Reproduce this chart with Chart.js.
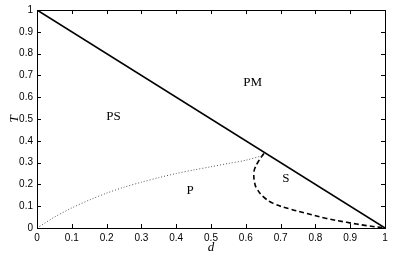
<!DOCTYPE html>
<html>
<head>
<meta charset="utf-8">
<script src="https://cdn.jsdelivr.net/npm/chart.js@4.4.1/dist/chart.umd.min.js"></script>
<style>
  html, body { margin: 0; padding: 0; background: #fff; }
  canvas { display: block; }
</style>
</head>
<body>
<canvas id="phaseChart" width="399" height="257"></canvas>
<script>
// boundary between PM and the low-T phases
const lineD = [0, 1];
const lineT = [1, 0];

// dotted boundary PS / P
const dottedD = [0, 0.02, 0.05, 0.1, 0.15, 0.2, 0.25, 0.3, 0.35, 0.4, 0.45, 0.5, 0.55, 0.6, 0.65];
const dottedT = [0, 0.02, 0.05, 0.092, 0.128, 0.16, 0.187, 0.21, 0.231, 0.25, 0.266, 0.281, 0.296, 0.311, 0.333];

// dashed boundary of the S region
const dashedD = [0.652, 0.638, 0.626, 0.623, 0.625, 0.631, 0.65, 0.679, 0.727, 0.775, 0.832, 0.89, 0.947, 1];
const dashedT = [0.342, 0.31, 0.274, 0.25, 0.21, 0.182, 0.144, 0.113, 0.087, 0.067, 0.044, 0.026, 0.011, 0];

const regionNames = ['PM', 'PS', 'P', 'S'];
const regionD = [0.62, 0.22, 0.44, 0.715];
const regionT = [0.665, 0.51, 0.17, 0.225];

const xTicks = [0, 0.1, 0.2, 0.3, 0.4, 0.5, 0.6, 0.7, 0.8, 0.9, 1];
const yTicks = [0, 0.1, 0.2, 0.3, 0.4, 0.5, 0.6, 0.7, 0.8, 0.9, 1];

const toPoints = (xs, ys) => xs.map((x, i) => ({ x: x, y: ys[i] }));

// frame box, inward ticks (matlab style) and region names
const framePlugin = {
  id: 'frame',
  afterDatasetsDraw(chart) {
    const { ctx, chartArea: a, scales } = chart;
    ctx.save();
    ctx.strokeStyle = '#000';
    ctx.lineWidth = 1;
    ctx.strokeRect(a.left + 0.5, a.top + 0.5, a.right - a.left, a.bottom - a.top);
    ctx.beginPath();
    xTicks.forEach(v => {
      const px = Math.round(scales.x.getPixelForValue(v)) + 0.5;
      ctx.moveTo(px, a.bottom); ctx.lineTo(px, a.bottom - 4);
      ctx.moveTo(px, a.top); ctx.lineTo(px, a.top + 4);
    });
    yTicks.forEach(v => {
      const py = Math.round(scales.y.getPixelForValue(v)) + 0.5;
      ctx.moveTo(a.left, py); ctx.lineTo(a.left + 4, py);
      ctx.moveTo(a.right, py); ctx.lineTo(a.right - 4, py);
    });
    ctx.stroke();

    ctx.fillStyle = '#000';
    ctx.font = '13px "Liberation Serif", "DejaVu Serif", serif';
    ctx.textAlign = 'center';
    ctx.textBaseline = 'middle';
    regionNames.forEach((name, i) => {
      ctx.fillText(name, scales.x.getPixelForValue(regionD[i]), scales.y.getPixelForValue(regionT[i]));
    });
    ctx.restore();
  }
};

const tickFont = { family: '"Liberation Sans", Arial, sans-serif', size: 10 };

new Chart(document.getElementById('phaseChart').getContext('2d'), {
  type: 'scatter',
  data: {
    datasets: [
      {
        data: toPoints(lineD, lineT),
        showLine: true,
        borderColor: '#000',
        borderWidth: 1.6,
        pointRadius: 0
      },
      {
        data: toPoints(dottedD, dottedT),
        showLine: true,
        borderColor: '#555',
        borderWidth: 1,
        borderDash: [1, 2],
        pointRadius: 0,
        tension: 0.3
      },
      {
        data: toPoints(dashedD, dashedT),
        showLine: true,
        borderColor: '#000',
        borderWidth: 1.6,
        borderDash: [5, 3],
        pointRadius: 0,
        tension: 0.4
      }
    ]
  },
  options: {
    responsive: false,
    animation: false,
    layout: { padding: { top: 10, right: 14, left: 0, bottom: 0 } },
    plugins: {
      legend: { display: false },
      tooltip: { enabled: false }
    },
    scales: {
      x: {
        type: 'linear',
        min: 0,
        max: 1,
        afterBuildTicks: s => { s.ticks = xTicks.map(v => ({ value: v })); },
        afterFit: s => { s.height = 29; },
        grid: { display: false, drawTicks: false },
        border: { display: false },
        ticks: { color: '#000', font: tickFont, padding: 4, maxRotation: 0, callback: v => String(v) },
        title: {
          display: true,
          text: 'd',
          color: '#000',
          padding: { top: -3, bottom: 2 },
          font: { family: '"Liberation Serif", serif', size: 13, style: 'italic' }
        }
      },
      y: {
        type: 'linear',
        min: 0,
        max: 1,
        afterBuildTicks: s => { s.ticks = yTicks.map(v => ({ value: v })); },
        afterFit: s => { s.width = 37; },
        grid: { display: false, drawTicks: false },
        border: { display: false },
        ticks: { color: '#000', font: tickFont, padding: 4, callback: v => String(v) },
        title: {
          display: true,
          text: 'T',
          color: '#000',
          padding: { top: 7, bottom: 0 },
          font: { family: '"Liberation Serif", serif', size: 13, style: 'italic' }
        }
      }
    }
  },
  plugins: [framePlugin]
});
</script>
</body>
</html>
